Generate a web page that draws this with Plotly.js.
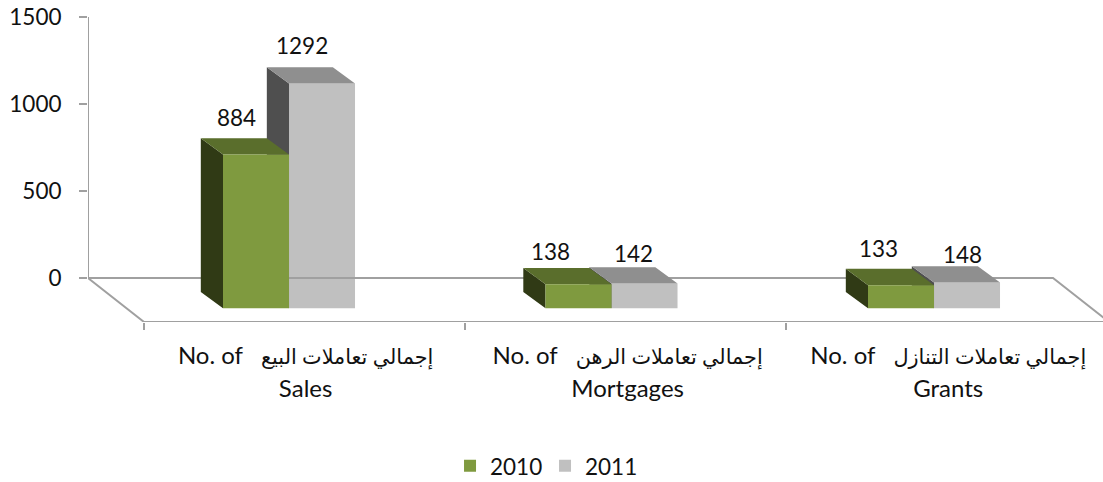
<!DOCTYPE html>
<html>
<head>
<meta charset="utf-8">
<script src="https://cdn.plot.ly/plotly-3.0.1.min.js"></script>
<style>html,body{margin:0;padding:0;background:#fff;overflow:hidden}#chart{width:1103px;height:482px}</style>
</head>
<body>
<div id="chart"></div>
<script>
// ---- data ----
const seriesNames = ['2010', '2011'];
const values2010 = [884, 138, 133];
const values2011 = [1292, 142, 148];
const arabicLabels = ['إجمالي تعاملات البيع', 'إجمالي تعاملات الرهن', 'إجمالي تعاملات التنازل'];
const englishFirst = 'No. of';
const englishLast = ['Sales', 'Mortgages', 'Grants'];
const yTicks = [0, 500, 1000, 1500];

// ---- look ----
const FONT = 'Lato, "DejaVu Sans", sans-serif';
const TEXT = '#111111';
const AXIS = '#a0a0a0';
const colors2010 = {front: '#7f9a3f', top: '#5a6e2c', side: '#303a15'};
const colors2011 = {front: '#c0c0c0', top: '#8f8f8f', side: '#4f4f4f'};
const barW = 0.2047, depthX = 0.0688, depthY = 93.7, floorFront = -174;
const xRange = [-0.6233, 2.524], yRange = [-252.9, 1500];
const boundaryTicks = [-0.4496, 0.5457, 1.5411];
const labelCentres = [0.0515, 0.0515 + 0.9985, 0.0515 + 1.9926];
const labelShift2010 = [[3, 20.6], [-6, 16.7], [0, 20.3]];
const labelShift2011 = [[2, 21.7], [11, 14], [18, 12]];
const cats = values2010.map((_, i) => i);

function faces(values, left) {
  const side = {x: [], y: []}, top = {x: [], y: []};
  values.forEach((v, i) => {
    const xl = i + left, xr = xl + barW, t = floorFront + v;
    side.x.push(xl, xl - depthX, xl - depthX, xl, xl, null);
    side.y.push(floorFront, floorFront + depthY, t + depthY, t, floorFront, null);
    top.x.push(xl, xl - depthX, xr - depthX, xr, xl, null);
    top.y.push(t, t + depthY, t + depthY, t, t, null);
  });
  return {side, top};
}
function poly(p, color) {
  return {type: 'scatter', mode: 'lines', x: p.x, y: p.y, fill: 'toself', fillcolor: color,
    line: {width: 0, color: color}, showlegend: false, hoverinfo: 'skip', xaxis: 'x', yaxis: 'y'};
}
const f10 = faces(values2010, -barW), f11 = faces(values2011, 0);

const lineOpts = {color: AXIS, width: 2};
const traces = [
  // wall and floor outline
  {type: 'scatter', mode: 'lines', cliponaxis: false, showlegend: false, hoverinfo: 'skip', line: lineOpts,
   x: [xRange[0], xRange[0], 2.369, 2.5426], y: [1500, 0, 0, yRange[0]]},
  {type: 'scatter', mode: 'lines', cliponaxis: false, showlegend: false, hoverinfo: 'skip', line: lineOpts,
   x: [xRange[0], boundaryTicks[0], 2.5426], y: [0, yRange[0], yRange[0]]},
  // 2011 block
  poly(f11.side, colors2011.side),
  poly(f11.top, colors2011.top),
  {type: 'bar', name: seriesNames[1], legendrank: 2, x: cats.map(i => i + barW / 2), y: values2011, width: barW,
   base: floorFront, marker: {color: colors2011.front, line: {width: 0}}, hoverinfo: 'skip', xaxis: 'x', yaxis: 'y'},
  // 2010 block
  poly(f10.side, colors2010.side),
  poly(f10.top, colors2010.top),
  {type: 'bar', name: seriesNames[0], legendrank: 1, x: cats.map(i => i - barW / 2), y: values2010, width: barW,
   base: floorFront, marker: {color: colors2010.front, line: {width: 0}}, hoverinfo: 'skip', xaxis: 'x2', yaxis: 'y2'}
];

function valueLabels(values, left, shifts) {
  return values.map((v, i) => ({
    x: i + left + barW / 2 - depthX, y: floorFront + v + depthY, xref: 'x', yref: 'y',
    text: String(v), showarrow: false, xanchor: 'center', yanchor: 'middle',
    xshift: shifts[i][0], yshift: shifts[i][1], font: {family: FONT, size: 22.5, color: TEXT}
  }));
}
const small = s => '<span style="font-size:24px">' + s + '</span>';
const tickText = arabicLabels.map((a, i) =>
  small(englishFirst + '\u00a0\u00a0\u00a0' + '<span style="font-size:20.8px">' + a + '</span>') + '<br>' + small(englishLast[i]));

const layout = {
  width: 1103, height: 482, paper_bgcolor: '#fff', plot_bgcolor: 'rgba(0,0,0,0)',
  margin: {l: 88, r: 0, t: 17, b: 160, pad: 0},
  font: {family: FONT, color: TEXT},
  barmode: 'overlay', showlegend: true, hovermode: false,
  xaxis: {range: xRange, showgrid: false, zeroline: false, showline: false, fixedrange: true,
    tickmode: 'array', tickvals: labelCentres, ticktext: tickText, ticks: 'outside', ticklen: 7,
    tickcolor: 'rgba(0,0,0,0)', tickwidth: 2, tickangle: 0, tickfont: {family: FONT, size: 25.5, color: TEXT},
    ticklabelstandoff: 3,
    minor: {tickmode: 'array', tickvals: boundaryTicks, ticks: 'outside', ticklen: 7, tickcolor: AXIS, tickwidth: 2, showgrid: false}},
  yaxis: {range: yRange, showgrid: false, zeroline: false, showline: false, fixedrange: true,
    tickmode: 'array', tickvals: yTicks, ticks: 'outside', ticklen: 8, tickcolor: AXIS, tickwidth: 2,
    ticklabelstandoff: 13, tickfont: {family: FONT, size: 22.5, color: TEXT}},
  xaxis2: {range: xRange, overlaying: 'x', visible: false, fixedrange: true},
  yaxis2: {range: yRange, overlaying: 'y', visible: false, fixedrange: true},
  legend: {orientation: 'h', xref: 'container', yref: 'container', x: 0.408, xanchor: 'left', y: 0.033, yanchor: 'middle',
    font: {family: FONT, size: 22.5, color: TEXT}, bgcolor: 'rgba(0,0,0,0)', entrywidth: 50, entrywidthmode: 'pixels', traceorder: 'normal'},
  annotations: valueLabels(values2010, -barW, labelShift2010).concat(valueLabels(values2011, 0, labelShift2011))
};
Plotly.newPlot('chart', traces, layout, {staticPlot: true, displayModeBar: false, responsive: false});
</script>
</body>
</html>
